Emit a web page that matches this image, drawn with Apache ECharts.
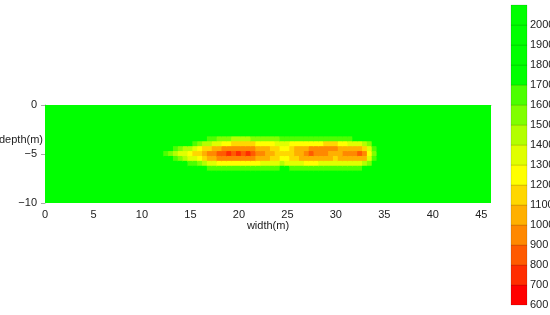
<!DOCTYPE html>
<html>
<head>
<meta charset="utf-8">
<style>
html, body { margin: 0; padding: 0; background: #fff; }
#main { width: 550px; height: 315px; }
</style>
<script src="https://cdn.jsdelivr.net/npm/echarts@6/dist/echarts.min.js"></script>
</head>
<body>
<div id="main"></div>
<script>
// colour classes of the legend (boundaries, one colour per class)
var levels = [600, 700, 800, 900, 1000, 1100, 1200, 1300, 1400, 1500, 1600, 1700, 1800, 1900, 2000, 2100];
var levelColors = ['#ff0000', '#ff2d00', '#ff5a00', '#ff8800', '#ffb000', '#ffd700', '#ffff00',
                   '#e0ff00', '#b3ff00', '#80ff00', '#4cff00', '#00ff00', '#00ff00', '#00ff00', '#00ff00'];

// section extent and sampling
var widthMax = 46;
var depthMin = -10;
var cellW = 0.5;
var cellH = 0.5;
var background = 2000;

// low value zone: one column per width, values for each depth
var anomalyDepth = [-3, -3.5, -4, -4.5, -5, -5.5, -6, -6.5, -7];
var anomalyX = [11, 11.5, 12, 12.5, 13, 13.5, 14, 14.5, 15, 15.5, 16, 16.5, 17, 17.5, 18, 18.5,
                19, 19.5, 20, 20.5, 21, 21.5, 22, 22.5, 23, 23.5, 24, 24.5, 25, 25.5, 26, 26.5,
                27, 27.5, 28, 28.5, 29, 29.5, 30, 30.5, 31, 31.5, 32, 32.5, 33, 33.5, 34, 34.5, 35];
var anomaly = [
    [2000, 2000, 2000, 2000, 2000, 2000, 2000, 2000, 2000],
    [2000, 2000, 2000, 2000, 1900, 2000, 2000, 2000, 2000],
    [2000, 2000, 2000, 1950, 1750, 1950, 2000, 2000, 2000],
    [2000, 2000, 2000, 1850, 1650, 1850, 2000, 2000, 2000],
    [2000, 2000, 1950, 1750, 1550, 1700, 1950, 2000, 2000],
    [2000, 2000, 1900, 1650, 1480, 1620, 1900, 2000, 2000],
    [2000, 2000, 1800, 1550, 1380, 1500, 1800, 2000, 2000],
    [2000, 1950, 1750, 1480, 1300, 1450, 1700, 1900, 2000],
    [2000, 1900, 1700, 1420, 1250, 1380, 1650, 1850, 2000],
    [2000, 1850, 1650, 1350, 1180, 1300, 1600, 1780, 2000],
    [2000, 1800, 1550, 1250, 1100, 1200, 1500, 1720, 2000],
    [2000, 1750, 1480, 1180, 1000, 1150, 1450, 1700, 2000],
    [2000, 1650, 1400, 1100, 950, 1080, 1380, 1680, 2000],
    [2000, 1600, 1350, 1050, 920, 1020, 1320, 1660, 2000],
    [2000, 1550, 1300, 1000, 880, 980, 1280, 1650, 2000],
    [2000, 1500, 1250, 980, 820, 950, 1250, 1630, 2000],
    [1950, 1500, 1200, 960, 780, 950, 1220, 1630, 2000],
    [1950, 1450, 1150, 950, 830, 950, 1200, 1630, 2000],
    [1950, 1450, 1100, 950, 790, 950, 1200, 1630, 2000],
    [1950, 1450, 1120, 950, 830, 950, 1200, 1630, 2000],
    [1950, 1450, 1150, 960, 780, 960, 1220, 1630, 2000],
    [1950, 1500, 1180, 980, 850, 980, 1250, 1630, 2000],
    [1950, 1500, 1200, 1000, 900, 1000, 1280, 1650, 2000],
    [1950, 1530, 1220, 1030, 950, 1030, 1300, 1650, 2000],
    [1950, 1550, 1250, 1080, 1000, 1080, 1320, 1660, 2000],
    [1950, 1550, 1280, 1120, 1050, 1120, 1350, 1660, 2000],
    [1950, 1570, 1300, 1150, 1100, 1150, 1380, 1680, 2000],
    [2000, 1650, 1320, 1200, 1150, 1200, 1400, 1700, 2000],
    [2000, 1650, 1300, 1220, 1180, 1220, 1380, 1700, 2000],
    [2000, 1650, 1280, 1150, 1100, 1150, 1350, 1680, 2000],
    [2000, 1620, 1250, 1080, 1050, 1100, 1320, 1680, 2000],
    [2000, 1600, 1220, 1030, 1000, 1050, 1300, 1650, 2000],
    [2000, 1600, 1200, 1000, 950, 1020, 1280, 1650, 2000],
    [2000, 1600, 1200, 980, 880, 1000, 1280, 1650, 2000],
    [2000, 1600, 1200, 980, 900, 1000, 1280, 1650, 2000],
    [2000, 1600, 1200, 980, 950, 1020, 1300, 1650, 2000],
    [2000, 1600, 1180, 980, 980, 1050, 1300, 1650, 2000],
    [2000, 1600, 1150, 960, 1000, 1080, 1320, 1650, 2000],
    [2000, 1620, 1150, 980, 1050, 1100, 1320, 1660, 2000],
    [2000, 1650, 1250, 1050, 1000, 1080, 1320, 1660, 2000],
    [2000, 1650, 1280, 1050, 980, 1050, 1320, 1660, 2000],
    [2000, 1680, 1300, 1050, 950, 1050, 1320, 1660, 2000],
    [2000, 1700, 1320, 1050, 920, 1030, 1320, 1660, 2000],
    [2000, 1720, 1350, 1080, 880, 1030, 1350, 1680, 2000],
    [2000, 1750, 1400, 1150, 900, 1080, 1400, 1720, 2000],
    [2000, 1850, 1550, 1300, 1200, 1300, 1550, 1800, 2000],
    [2000, 2000, 1800, 1650, 1550, 1650, 1800, 2000, 2000],
    [2000, 2000, 1950, 1850, 1800, 1850, 1950, 2000, 2000],
    [2000, 2000, 2000, 2000, 2000, 2000, 2000, 2000, 2000]
];

var fontFamily = '"Liberation Sans", Arial, sans-serif';

// full grid: green background plus the measured low zone
var cells = [];
for (var x = 0; x <= widthMax; x += cellW) {
    for (var d = 0; d >= depthMin; d -= cellH) {
        var v = background;
        var i = anomalyX.indexOf(x);
        var j = anomalyDepth.indexOf(d);
        if (i >= 0 && j >= 0) v = anomaly[i][j];
        cells.push([x, d, v]);
    }
}

var pieces = [];
var bar = [];
for (var k = 0; k < levelColors.length; k++) {
    pieces.push({ gte: levels[k], lt: levels[k + 1], color: levelColors[k] });
    bar.push([0, levels[k], levels[k + 1], k]);
}

function minus(v) {
    return String(v).replace('-', '\u2212');
}

function renderCell(params, api) {
    var x = api.value(0), y = api.value(1);
    var p0 = api.coord([x - cellW / 2, y + cellH / 2]);
    var p1 = api.coord([x + cellW / 2, y - cellH / 2]);
    // a little overlap so neighbouring cells leave no seams
    var rect = echarts.graphic.clipRectByRect({
        x: p0[0] - 0.5, y: p0[1] - 0.5, width: p1[0] - p0[0] + 1, height: p1[1] - p0[1] + 1
    }, params.coordSys);
    if (!rect) return;
    return { type: 'rect', shape: rect, style: { fill: api.visual('color') } };
}

function renderKey(params, api) {
    var lo = api.coord([api.value(0), api.value(1)]);
    var hi = api.coord([api.value(0), api.value(2)]);
    var bw = api.size([1, 0])[0];
    return {
        type: 'rect',
        shape: { x: lo[0] - bw / 2, y: hi[1], width: bw, height: lo[1] - hi[1] },
        style: { fill: levelColors[api.value(3)], stroke: 'rgba(0,0,0,0.12)', lineWidth: 1 }
    };
}

var chart = echarts.init(document.getElementById('main'));
var labelStyle = { color: '#222', fontSize: 11, fontFamily: fontFamily };

chart.setOption({
    animation: false,
    textStyle: { fontFamily: fontFamily },
    grid: [
        { left: 45, top: 105, width: 446, height: 98, outerBoundsMode: 'none', containLabel: false },
        { left: 511, top: 5, width: 16, height: 300, outerBoundsMode: 'none', containLabel: false }
    ],
    xAxis: [{
        gridIndex: 0,
        type: 'value',
        min: 0, max: widthMax, interval: 5,
        name: 'width(m)', nameLocation: 'middle', nameGap: 17, nameMoveOverlap: false,
        nameTextStyle: labelStyle,
        axisLine: { lineStyle: { color: '#aaa' } },
        axisTick: { length: 4, lineStyle: { color: '#aaa' } },
        axisLabel: Object.assign({ margin: 6, showMaxLabel: false }, labelStyle),
        splitLine: { show: false }
    }, {
        gridIndex: 1,
        type: 'category',
        data: ['key'],
        show: false
    }],
    yAxis: [{
        gridIndex: 0,
        type: 'value',
        min: depthMin, max: 0, interval: 5,
        name: 'depth(m)', nameLocation: 'middle', nameGap: 2, nameRotate: 0, nameMoveOverlap: false,
        // sits above the -5 label, as in the picture
        nameTextStyle: Object.assign({ verticalAlign: 'bottom', lineHeight: 29 }, labelStyle),
        axisLine: { show: true, lineStyle: { color: '#aaa' } },
        axisTick: { show: true, length: 4, lineStyle: { color: '#aaa' } },
        axisLabel: Object.assign({ margin: 8, formatter: minus }, labelStyle),
        splitLine: { show: false }
    }, {
        gridIndex: 1,
        type: 'value',
        position: 'right',
        min: levels[0], max: levels[levels.length - 1], interval: 100,
        axisLine: { show: false },
        axisTick: { show: false },
        axisLabel: Object.assign({ margin: 3, showMaxLabel: false, formatter: function (v) { return String(v); } }, labelStyle),
        splitLine: { show: false }
    }],
    visualMap: {
        type: 'piecewise',
        show: false,
        seriesIndex: 0,
        dimension: 2,
        pieces: pieces
    },
    series: [{
        type: 'custom',
        xAxisIndex: 0, yAxisIndex: 0,
        renderItem: renderCell,
        data: cells
    }, {
        type: 'custom',
        xAxisIndex: 1, yAxisIndex: 1,
        renderItem: renderKey,
        data: bar
    }]
});
</script>
</body>
</html>
